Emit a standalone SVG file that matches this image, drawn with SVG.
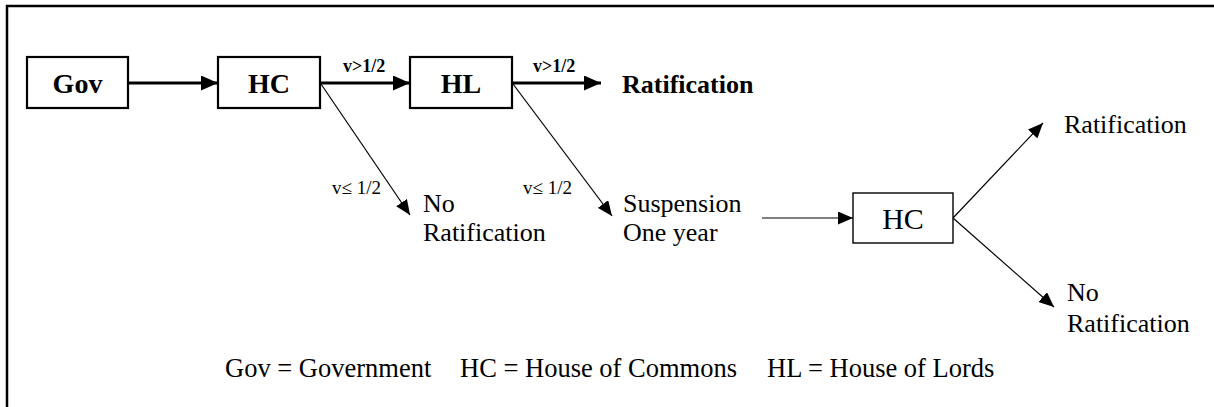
<svg xmlns="http://www.w3.org/2000/svg" width="1214" height="407" viewBox="0 0 1214 407">
  <style>
    .frame { fill: none; stroke: #000; stroke-width: 2.5; }
    .box-bold { fill: #fff; stroke: #000; stroke-width: 2.2; }
    .box-thin { fill: #fff; stroke: #000; stroke-width: 1.4; }
    .edge-bold { fill: none; stroke: #000; stroke-width: 2.8; }
    .edge-thin { fill: none; stroke: #000; stroke-width: 1.2; }
    .t { font-family: "Liberation Serif", "Times New Roman", serif; fill: #000; }
    .node-b { font-size: 28px; font-weight: bold; text-anchor: middle; }
    .node-r { font-size: 30px; text-anchor: middle; }
    .cond-b { font-size: 18px; font-weight: bold; }
    .cond-r { font-size: 19px; }
    .lbl { font-size: 26px; }
    .lbl-b { font-size: 26px; font-weight: bold; }
    .legend { font-size: 26.5px; }
  </style>
  <defs>
    <marker id="head-bold" markerUnits="userSpaceOnUse" markerWidth="17" markerHeight="15" viewBox="0 0 17 15" refX="17" refY="7.5" orient="auto">
      <path d="M0,0 L17,7.5 L0,15 Z" fill="#000"/>
    </marker>
    <marker id="head-thin" markerUnits="userSpaceOnUse" markerWidth="15" markerHeight="13" viewBox="0 0 15 13" refX="15" refY="6.5" orient="auto">
      <path d="M0,0 L15,6.5 L0,13 Z" fill="#000"/>
    </marker>
  </defs>

  <rect width="1214" height="407" fill="#fff"/>

  <!-- open frame: left and top edges -->
  <path class="frame" d="M7,407 V6 H1214"/>

  <!-- connectors -->
  <g id="connectors">
    <line class="edge-bold" x1="128" y1="83" x2="218" y2="83" marker-end="url(#head-bold)"/>
    <line class="edge-bold" x1="320" y1="83" x2="410" y2="83" marker-end="url(#head-bold)"/>
    <line class="edge-bold" x1="512" y1="83" x2="601" y2="83" marker-end="url(#head-bold)"/>
    <line class="edge-thin" x1="321" y1="84" x2="410" y2="215" marker-end="url(#head-thin)"/>
    <line class="edge-thin" x1="513" y1="84" x2="612" y2="216" marker-end="url(#head-thin)"/>
    <line class="edge-thin" x1="762" y1="218" x2="853" y2="218" marker-end="url(#head-thin)"/>
    <line class="edge-thin" x1="953" y1="218" x2="1043" y2="123" marker-end="url(#head-thin)"/>
    <line class="edge-thin" x1="953" y1="218" x2="1054" y2="307" marker-end="url(#head-thin)"/>

    <text class="t cond-b" x="343" y="72">v&gt;1/2</text>
    <text class="t cond-b" x="533" y="72">v&gt;1/2</text>
    <text class="t cond-r" x="332" y="194">v≤ 1/2</text>
    <text class="t cond-r" x="523" y="194">v≤ 1/2</text>
  </g>

  <!-- nodes -->
  <g id="gov">
    <rect class="box-bold" x="27" y="57" width="101" height="51"/>
    <text class="t node-b" x="77.5" y="93">Gov</text>
  </g>
  <g id="hc">
    <rect class="box-bold" x="218" y="57" width="102" height="51"/>
    <text class="t node-b" x="269" y="93">HC</text>
  </g>
  <g id="hl">
    <rect class="box-bold" x="410" y="57" width="102" height="51"/>
    <text class="t node-b" x="461" y="93">HL</text>
  </g>
  <g id="ratification-hl">
    <text class="t lbl-b" x="622" y="93">Ratification</text>
  </g>
  <g id="no-ratification-hc">
    <text class="t lbl" x="423" y="212">No</text>
    <text class="t lbl" x="423" y="241">Ratification</text>
  </g>
  <g id="suspension">
    <text class="t lbl" x="623" y="212">Suspension</text>
    <text class="t lbl" x="623" y="241">One year</text>
  </g>
  <g id="hc-second">
    <rect class="box-thin" x="853" y="193" width="100" height="50"/>
    <text class="t node-r" x="903" y="229">HC</text>
  </g>
  <g id="ratification-final">
    <text class="t lbl" x="1064" y="133">Ratification</text>
  </g>
  <g id="no-ratification-final">
    <text class="t lbl" x="1067" y="301">No</text>
    <text class="t lbl" x="1067" y="332">Ratification</text>
  </g>

  <!-- legend -->
  <g id="legend">
    <text class="t legend" x="225" y="377">Gov = Government</text>
    <text class="t legend" x="460" y="377">HC = House of Commons</text>
    <text class="t legend" x="767" y="377">HL = House of Lords</text>
  </g>
</svg>
